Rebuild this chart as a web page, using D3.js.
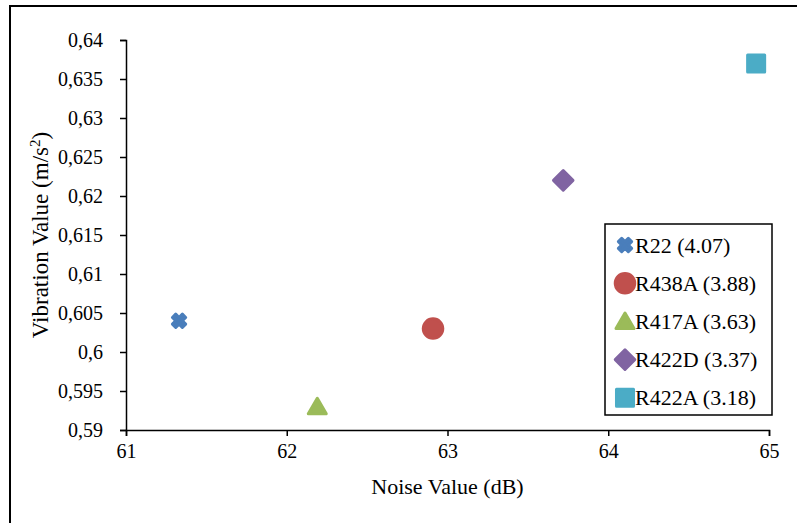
<!DOCTYPE html>
<html>
<head>
<meta charset="utf-8">
<script src="https://cdn.jsdelivr.net/npm/d3@7"></script>
<style>
  body { margin: 0; background: #fff; }
  svg, svg text { font-family: "Liberation Serif", "Times New Roman", serif; }
</style>
</head>
<body>
<svg></svg>
<script>
const width = 797;
const height = 523;
const margin = { top: 40, right: 28, bottom: 93, left: 126 };

// data
const refrigerants = ['R22 (4.07)', 'R438A (3.88)', 'R417A (3.63)', 'R422D (3.37)', 'R422A (3.18)'];
const noiseValues = [61.33, 62.91, 62.19, 63.72, 64.92];
const vibrationValues = [0.604, 0.603, 0.593, 0.622, 0.637];
const colors = ['#4A7EBB', '#C0504D', '#9BBB59', '#8064A2', '#4BACC6'];
const shapes = ['x', 'circle', 'triangle', 'diamond', 'square'];
const xTicks = [61, 62, 63, 64, 65];
const yTicks = [0.59, 0.595, 0.6, 0.605, 0.61, 0.615, 0.62, 0.625, 0.63, 0.635, 0.64];

const data = refrigerants.map((name, i) => ({
  name, noise: noiseValues[i], vib: vibrationValues[i], color: colors[i], shape: shapes[i]
}));

const svg = d3.select('svg')
  .attr('width', width)
  .attr('height', height);

// outer frame (cropped on right/bottom)
svg.append('rect')
  .attr('x', 10).attr('y', 6)
  .attr('width', 900).attr('height', 700)
  .attr('fill', 'none')
  .attr('stroke', '#000')
  .attr('stroke-width', 2);

const xScale = d3.scaleLinear()
  .domain([61, 65])
  .range([margin.left, width - margin.right]);

const yScale = d3.scaleLinear()
  .domain([0.59, 0.64])
  .range([height - margin.bottom, margin.top]);

const commaFmt = d => String(d).replace('.', ',');

const xAxis = d3.axisBottom(xScale).tickValues(xTicks).tickFormat(d => d).tickSize(6).tickPadding(8);
const yAxis = d3.axisLeft(yScale).tickValues(yTicks).tickFormat(commaFmt).tickSize(6).tickPadding(17);

const gx = svg.append('g')
  .attr('id', 'x-axis')
  .attr('transform', `translate(0,${height - margin.bottom})`)
  .call(xAxis);

const gy = svg.append('g')
  .attr('id', 'y-axis')
  .attr('transform', `translate(${margin.left},0)`)
  .call(yAxis);

[gx, gy].forEach(g => {
  g.attr('font-family', null).attr('font-size', null);
  g.select('.domain').attr('stroke', '#000').attr('stroke-width', 1.5);
  g.selectAll('.tick line').attr('stroke', '#000').attr('stroke-width', 1.5);
  g.selectAll('.tick text')
    .attr('fill', '#000')
    .style('font-size', '20px');
});

// axis titles
svg.append('text')
  .attr('x', (margin.left + width - margin.right) / 2)
  .attr('y', 494)
  .attr('text-anchor', 'middle')
  .style('font-size', '22px')
  .text('Noise Value (dB)');

const yTitle = svg.append('text')
  .attr('transform', `translate(48,${(margin.top + height - margin.bottom) / 2}) rotate(-90)`)
  .attr('text-anchor', 'middle')
  .style('font-size', '23px');
yTitle.append('tspan').text('Vibration Value (m/s');
yTitle.append('tspan').attr('baseline-shift', 'super').style('font-size', '15px').text('2');
yTitle.append('tspan').text(')');

function symbolPath(shape) {
  const types = {
    x: d3.symbolCross, circle: d3.symbolCircle, triangle: d3.symbolTriangle,
    diamond: d3.symbolSquare, square: d3.symbolSquare
  };
  const sizes = { x: 110, circle: 300, triangle: 140, diamond: 190, square: 290 };
  return d3.symbol().type(types[shape]).size(sizes[shape])();
}

function drawMarker(g, d) {
  const tf = { x: 'rotate(45)', triangle: 'translate(0,2)', diamond: 'rotate(45)' };
  g.append('path')
    .attr('d', symbolPath(d.shape))
    .attr('transform', tf[d.shape] || null)
    .attr('fill', d.color)
    .attr('stroke', d.color)
    .attr('stroke-width', 3)
    .attr('stroke-linejoin', 'round');
}

svg.selectAll('.point')
  .data(data)
  .enter().append('g')
  .attr('class', 'point')
  .attr('transform', d => `translate(${xScale(d.noise)},${yScale(d.vib)})`)
  .each(function (d) { drawMarker(d3.select(this), d); });

// legend
const legend = svg.append('g').attr('transform', 'translate(605,224)');
legend.append('rect')
  .attr('width', 167).attr('height', 191)
  .attr('fill', '#fff')
  .attr('stroke', '#000')
  .attr('stroke-width', 1.5);

const items = legend.selectAll('.item')
  .data(data)
  .enter().append('g')
  .attr('class', 'item')
  .attr('transform', (d, i) => `translate(20,${21 + i * 38.2})`);

items.each(function (d) { drawMarker(d3.select(this), d); });
items.append('text')
  .attr('x', 10)
  .attr('y', 7.5)
  .style('font-size', '22px')
  .text(d => d.name);
</script>
</body>
</html>
